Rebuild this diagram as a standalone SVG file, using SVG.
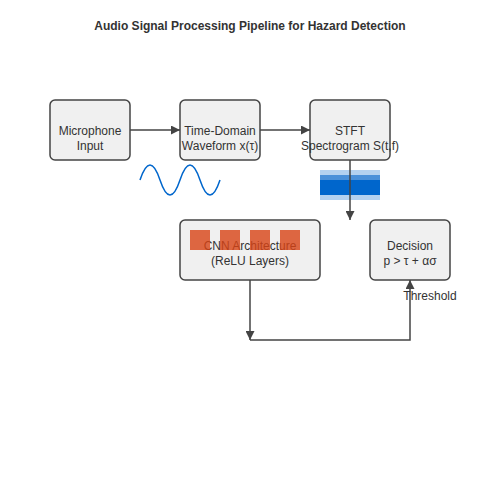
<svg xmlns="http://www.w3.org/2000/svg" width="500" height="500" viewBox="0 0 500 500">
<style>
.box{fill:#f0f0f0;stroke:#444;stroke-width:1.5}
.lbl{font-family:"Liberation Sans",Arial,sans-serif;font-size:12px;fill:#333;text-anchor:middle}
.title{font-family:"Liberation Sans",Arial,sans-serif;font-size:12px;font-weight:bold;fill:#333;text-anchor:middle}
.conn{fill:none;stroke:#444;stroke-width:1.5}
.sq{fill:#d84315;opacity:0.8}
</style>
<defs>
<marker id="arr" viewBox="0 0 10 10" refX="10" refY="5" markerWidth="6" markerHeight="6" orient="auto" markerUnits="strokeWidth">
<path d="M0,0 L10,5 L0,10 z" fill="#444"/>
</marker>
</defs>
<rect width="500" height="500" fill="#fff"/>
<text class="title" x="250" y="30">Audio Signal Processing Pipeline for Hazard Detection</text>

<g id="mic">
<rect class="box" x="50" y="100" width="80" height="60" rx="5"/>
<text class="lbl" x="90" y="135">Microphone</text>
<text class="lbl" x="90" y="150">Input</text>
</g>
<g id="waveform">
<rect class="box" x="180" y="100" width="80" height="60" rx="5"/>
<text class="lbl" x="220" y="135">Time-Domain</text>
<text class="lbl" x="220" y="150">Waveform x(τ)</text>
</g>
<g id="stft">
<rect class="box" x="310" y="100" width="80" height="60" rx="5"/>
<text class="lbl" x="350" y="135">STFT</text>
<text class="lbl" x="350" y="150">Spectrogram S(t,f)</text>
</g>
<g id="cnn">
<rect class="box" x="180" y="220" width="140" height="60" rx="5"/>
<text class="lbl" x="250" y="250">CNN Architecture</text>
<text class="lbl" x="250" y="265">(ReLU Layers)</text>
<rect class="sq" x="190" y="230" width="20" height="20"/>
<rect class="sq" x="220" y="230" width="20" height="20"/>
<rect class="sq" x="250" y="230" width="20" height="20"/>
<rect class="sq" x="280" y="230" width="20" height="20"/>
</g>
<g id="decision">
<rect class="box" x="370" y="220" width="80" height="60" rx="5"/>
<text class="lbl" x="410" y="250">Decision</text>
<text class="lbl" x="410" y="265">p &gt; τ + ασ</text>
</g>

<g id="wave">
<path d="M140,180 Q150,150 160,180 T180,180 T200,180 T220,180" fill="none" stroke="#0066cc" stroke-width="1.5"/>
</g>
<g id="spectrogram">
<rect x="320" y="170" width="60" height="30" fill="#b3d1f0"/>
<rect x="320" y="175" width="60" height="5" fill="#4a90d9"/>
<rect x="320" y="180" width="60" height="15" fill="#0066cc"/>
</g>

<g id="connectors">
<path class="conn" d="M130,130 L180,130" marker-end="url(#arr)"/>
<path class="conn" d="M260,130 L310,130" marker-end="url(#arr)"/>
<path class="conn" d="M350,160 L350,220" marker-end="url(#arr)"/>
<path class="conn" d="M250,280 L250,340" marker-end="url(#arr)"/>
<path class="conn" d="M250,340 L410,340 L410,280" marker-end="url(#arr)"/>
</g>
<text class="lbl" x="430" y="300">Threshold</text>
</svg>
